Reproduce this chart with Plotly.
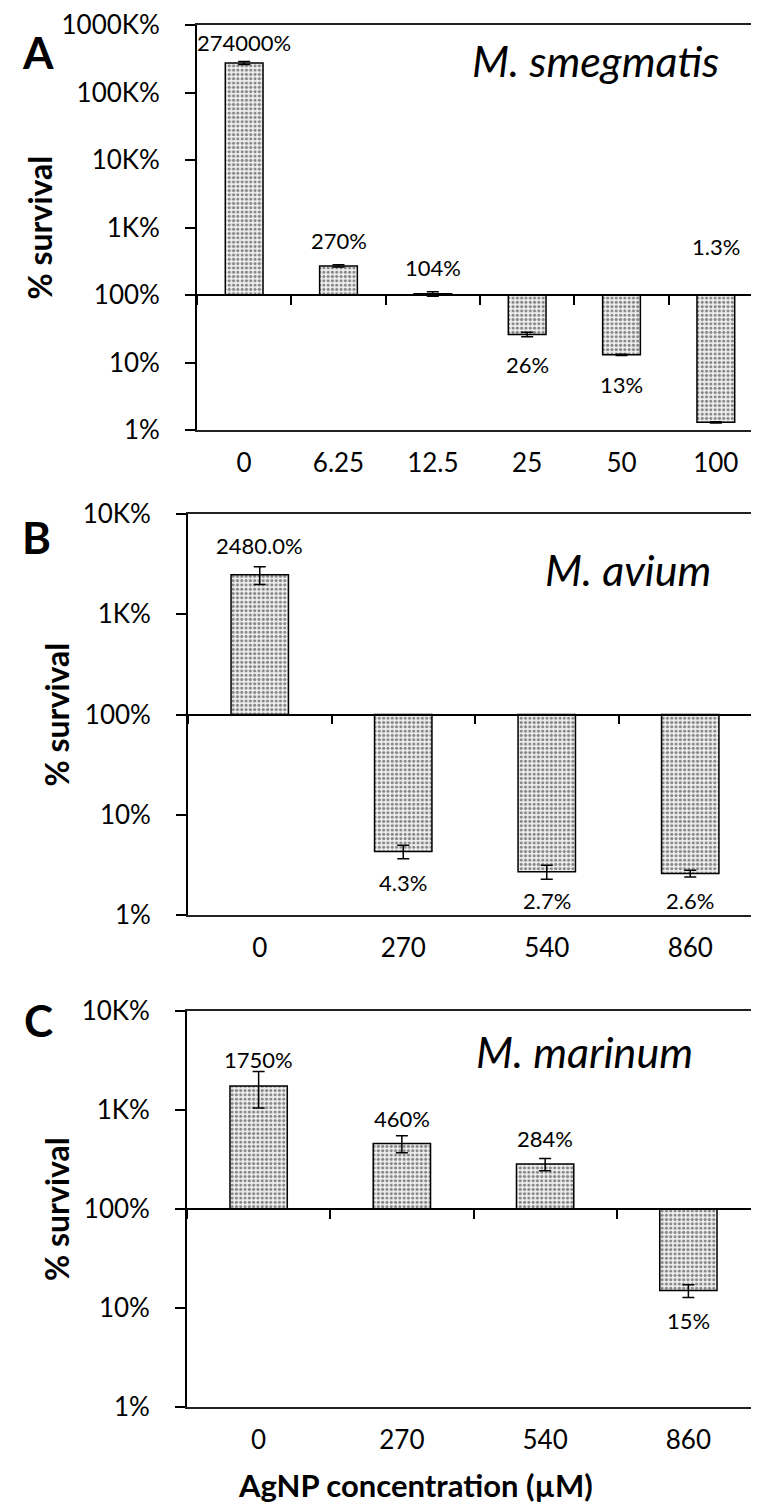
import math
import plotly.graph_objects as go

W, H = 759, 1512
FONT = "Lato"

# ---------------- data ----------------
a_cats = ["0", "6.25", "12.5", "25", "50", "100"]
a_vals = [274000, 270, 104, 26, 13, 1.3]
a_err = [15000, 10, 8, 2, 0.3, 0.03]
a_labels = ["274000%", "270%", "104%", "26%", "13%", "1.3%"]

b_cats = ["0", "270", "540", "860"]
b_vals = [2480, 4.3, 2.7, 2.6]
b_err = [500, 0.65, 0.43, 0.2]
b_labels = ["2480.0%", "4.3%", "2.7%", "2.6%"]

c_cats = ["0", "270", "540", "860"]
c_vals = [1750, 460, 284, 15]
c_err = [700, 90, 40, 2.2]
c_labels = ["1750%", "460%", "284%", "15%"]

a_ticks = [1, 10, 100, 1000, 10000, 100000, 1000000]
a_ticktext = ["1%", "10%", "100%", "1K%", "10K%", "100K%", "1000K%"]
bc_ticks = [1, 10, 100, 1000, 10000]
bc_ticktext = ["1%", "10%", "100%", "1K%", "10K%"]

BASE = 100  # bars grow from 100%

# ---------------- layout helpers (pixel geometry) ----------------
def px_x(x):
    return x / W

def px_y(y):
    return 1 - y / H

panels = [
    dict(cats=a_cats, vals=a_vals, err=a_err, labels=a_labels,
         ticks=a_ticks, ticktext=a_ticktext,
         box=(189, 755, 17, 422), shifts=[20, 25, 26, -30, -30, 176],
         letter="A", letter_pos=(30, 44), species="M. smegmatis", species_pos=(587, 53),
         ytitle_x=31),
    dict(cats=b_cats, vals=b_vals, err=b_err, labels=b_labels,
         ticks=bc_ticks, ticktext=bc_ticktext,
         box=(180, 754, 506, 907), shifts=[29, -31, -29, -27],
         letter="B", letter_pos=(29, 529), species="M. avium", species_pos=(620, 562),
         ytitle_x=48),
    dict(cats=c_cats, vals=c_vals, err=c_err, labels=c_labels,
         ticks=bc_ticks, ticktext=bc_ticktext,
         box=(179, 752, 1003, 1399), shifts=[26, 25, 26, -30],
         letter="C", letter_pos=(30, 1012), species="M. marinum", species_pos=(576, 1043),
         ytitle_x=48),
]

fig = go.Figure()
annotations = []
shapes = []
NP = len(panels)

for i, p in enumerate(panels):
    n = i + 1
    xa = "x" if n == 1 else f"x{n}"
    ya = "y" if n == 1 else f"y{n}"
    x0, x1, y0, y1 = p["box"]
    ymin = math.log10(p["ticks"][0])
    ymax = math.log10(p["ticks"][-1])

    fig.add_trace(go.Bar(
        x=p["cats"],
        y=[v - BASE for v in p["vals"]],
        base=BASE,
        xaxis=xa, yaxis=ya,
        marker=dict(color="#ececec",
                    line=dict(color="black", width=1.5),
                    pattern=dict(shape=".", fgcolor="#1e1e1e", bgcolor="#eeeeee",
                                 size=4.3, solidity=0.42)),
        error_y=dict(type="data", array=p["err"], visible=True,
                     color="black", thickness=1.5, width=6),
        showlegend=False, hoverinfo="skip",
    ))

    xkey = "xaxis" if n == 1 else f"xaxis{n}"
    ykey = "yaxis" if n == 1 else f"yaxis{n}"
    fig.update_layout(**{
        xkey: dict(domain=[px_x(x0), px_x(x1)], anchor=ya, type="category",
                   range=[-0.5, len(p["cats"]) - 0.5],
                   showline=True, mirror=True, linecolor="#222", linewidth=1.5,
                   ticks="", showgrid=False, zeroline=False,
                   tickfont=dict(family=FONT, size=26, color="black"),
                   ticklabelstandoff=9, automargin=False, fixedrange=True),
        ykey: dict(domain=[px_y(y1), px_y(y0)], anchor=xa, type="log",
                   range=[ymin, ymax],
                   tickvals=p["ticks"], ticktext=p["ticktext"],
                   showline=True, mirror=True, linecolor="black", linewidth=1.8,
                   ticks="outside", ticklen=10, tickwidth=1.5, tickcolor="black",
                   showgrid=False, zeroline=False,
                   tickfont=dict(family=FONT, size=26, color="black"),
                   ticklabelstandoff=20, automargin=False, fixedrange=True),
    })

    # 100% crossing axis: line + category boundary ticks (overlay axis at base level)
    frac = (math.log10(BASE) - ymin) / (ymax - ymin)
    base_paper = px_y(y1) + frac * (px_y(y0) - px_y(y1))
    okey = f"xaxis{NP + n}"
    fig.update_layout(**{
        okey: dict(domain=[px_x(x0), px_x(x1)], overlaying=xa, anchor="free",
                   position=base_paper, side="bottom", type="category",
                   categoryorder="array", categoryarray=p["cats"],
                   range=[-0.5, len(p["cats"]) - 0.5],
                   showline=True, linecolor="black", linewidth=1.5,
                   ticks="outside", tickson="boundaries", ticklen=9, tickwidth=1.5,
                   tickcolor="black", showticklabels=False, showgrid=False,
                   zeroline=False, automargin=False, fixedrange=True),
    })
    fig.add_trace(go.Scatter(x=p["cats"], y=p["vals"], xaxis=f"x{NP + n}", yaxis=ya,
                             mode="markers", marker=dict(opacity=0, size=1),
                             showlegend=False, hoverinfo="skip"))

    # data labels
    for k, (v, lab, sh) in enumerate(zip(p["vals"], p["labels"], p["shifts"])):
        annotations.append(dict(x=k, y=math.log10(v), xref=xa, yref=ya,
                                text=lab, showarrow=False, yshift=sh,
                                xanchor="center", yanchor="middle",
                                font=dict(family=FONT, size=22, color="black")))

    # species name
    sx, sy = p["species_pos"]
    annotations.append(dict(x=px_x(sx), y=px_y(sy), xref="paper", yref="paper",
                            text=f"<i>{p['species']}</i>", showarrow=False,
                            xanchor="center", yanchor="middle",
                            font=dict(family=FONT, size=43, color="black")))
    # panel letter
    lx, ly = p["letter_pos"]
    annotations.append(dict(x=px_x(lx), y=px_y(ly), xref="paper", yref="paper",
                            text=f"<b>{p['letter']}</b>", showarrow=False,
                            xanchor="center", yanchor="middle",
                            font=dict(family=FONT, size=44, color="black")))
    # y title
    annotations.append(dict(x=px_x(p["ytitle_x"]), y=px_y((y0 + y1) / 2),
                            xref="paper", yref="paper",
                            text="<b>% survival</b>", showarrow=False, textangle=-90,
                            xanchor="center", yanchor="middle",
                            font=dict(family=FONT, size=32, color="black")))

# x-axis title
annotations.append(dict(x=px_x(407), y=px_y(1477), xref="paper", yref="paper",
                        text="<b>AgNP concentration (µM)</b>", showarrow=False,
                        xanchor="center", yanchor="middle",
                        font=dict(family=FONT, size=31, color="black")))

fig.update_layout(
    width=W, height=H, autosize=False,
    margin=dict(l=0, r=0, t=0, b=0),
    paper_bgcolor="white", plot_bgcolor="white",
    bargap=0.6, showlegend=False,
    annotations=annotations, shapes=shapes,
    font=dict(family=FONT, color="black"),
)

fig.write_html("out.html")
